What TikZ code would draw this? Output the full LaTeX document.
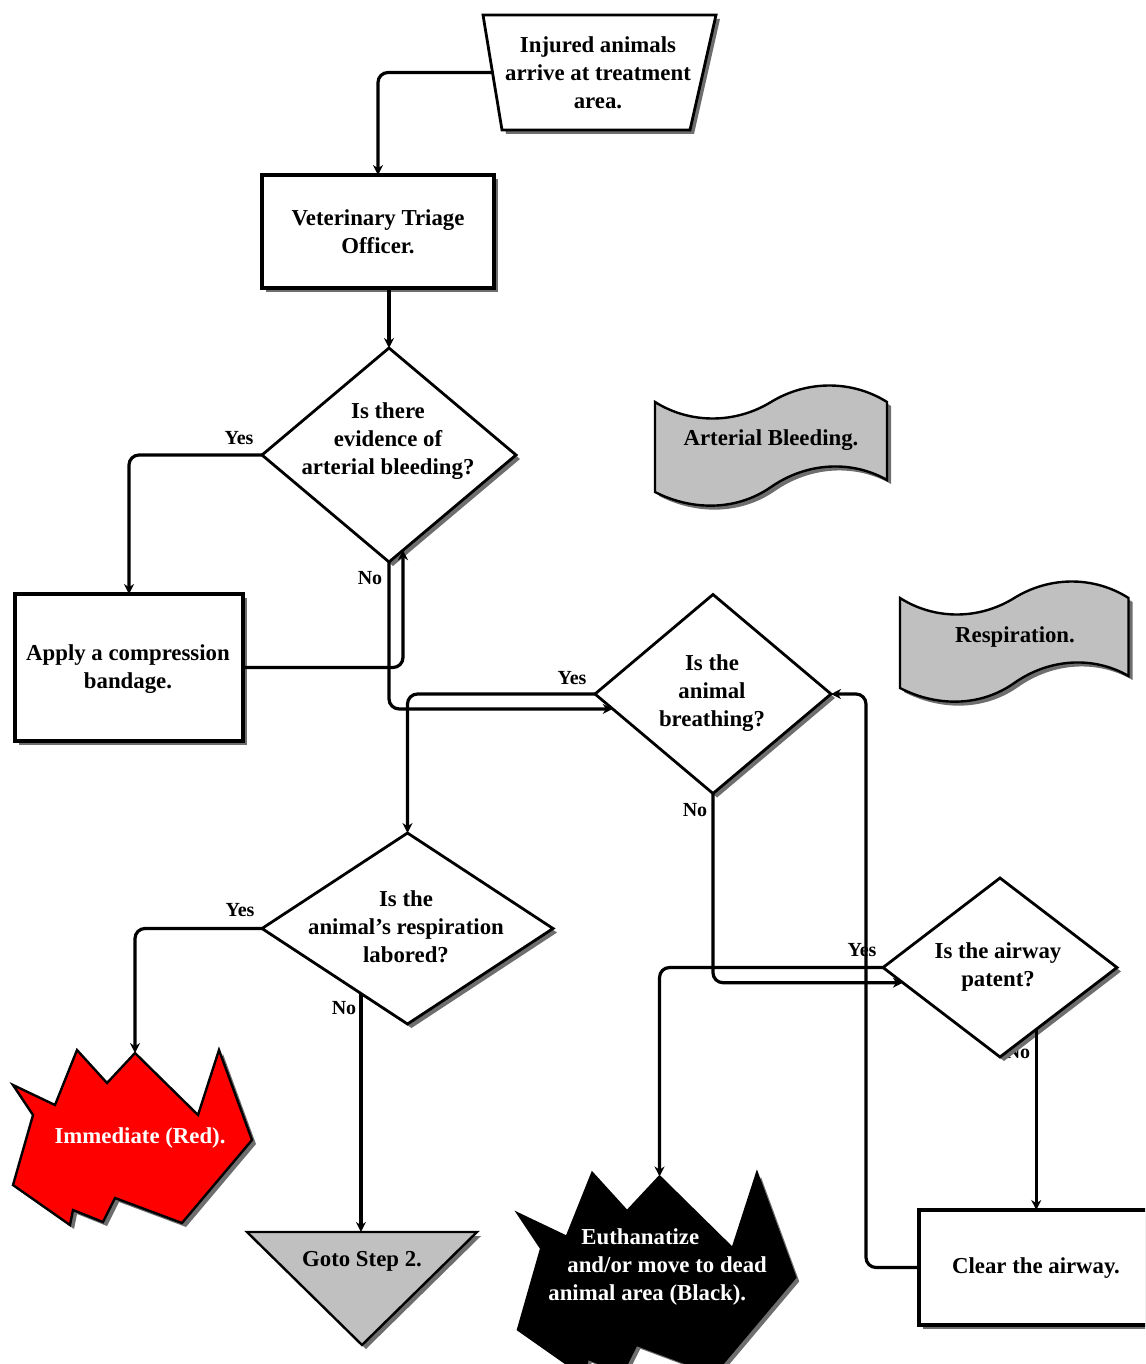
\documentclass[tikz,border=0pt]{standalone}
\usepackage{fontspec}
\setmainfont{Liberation Serif}
\usetikzlibrary{shapes.geometric,arrows.meta,calc}
\definecolor{shadc}{RGB}{110,110,110}
\definecolor{lgray}{RGB}{192,192,192}
\definecolor{fred}{RGB}{255,0,0}
\tikzset{
 shad/.style={preaction={fill=shadc, transform canvas={shift={(2pt,-2pt)}}}},
 boxs/.style={draw, rectangle, line width=1.6pt, fill=white, shad, inner sep=0pt, outer sep=0pt},
 dia/.style={draw, diamond, line width=1.4pt, fill=white, shad, inner sep=0pt, outer sep=0pt},
 txt/.style={font=\fontsize{11.4}{14}\selectfont\bfseries, align=center, inner sep=0pt},
 lbl/.style={font=\fontsize{10}{12}\selectfont\bfseries, inner sep=0pt},
 conn/.style={line width=1.6pt, rounded corners=5pt, -{Stealth[length=5pt,width=5pt]}},
}
\newcommand{\explopath}[2]{\path[#1] (122,3) coordinate (#2) -- (185,65) -- (206,0) -- (239,90) -- (169,173) -- (102,148) -- (90,172) -- (60,160) -- (57,175) -- (0,135) -- (20,65) -- (0,35) -- (42,55) -- (64,0) -- (94,33) -- cycle;}
\newcommand{\bannerpath}[1]{\path[#1] (0,0) .. controls (35,22) and (80,22) .. (116,0) .. controls (152,-22) and (197,-22) .. (232,0) -- (232,78) .. controls (197,58) and (152,60) .. (116,85) .. controls (80,110) and (35,108) .. (0,90) -- cycle;}
\begin{document}
\begin{tikzpicture}[x=0.5pt,y=-0.5pt]
\useasboundingbox (0,0) rectangle (1145,1364);
\clip (0,0) rectangle (1145,1364);

% label partly hidden by shadow
\node[lbl] (lno4) at (1018,1052) {No};

% trapezoid
\path[draw, line width=1.4pt, fill=white, shad] (483,15) -- (716,15) -- (690,130) -- (502,130) -- cycle;
\coordinate (tzl) at (492.5,72.5);
\node[txt] (tzt) at (598,73) {Injured animals\\arrive at treatment\\area.};

% boxes
\node[boxs, minimum width=116pt, minimum height=56.5pt] (vto) at (378,231.5) {};
\node[txt] (vtot) at (378,232) {Veterinary Triage\\Officer.};
\node[boxs, minimum width=114pt, minimum height=73.5pt] (apl) at (129,667.5) {};
\node[txt] (aplt) at (128,669) {Apply a compression\\bandage.};
\node[boxs, minimum width=117pt, minimum height=57.5pt] (clr) at (1036,1267.5) {};
\node[txt] (clrt) at (1036,1268) {Clear the airway.};

% diamonds
\node[dia, minimum width=127pt, minimum height=107pt] (d1) at (389,455) {};
\node[txt] (d1t) at (388,441) {Is there\\evidence of\\arterial bleeding?};
\node[dia, minimum width=118pt, minimum height=99.5pt] (d2) at (713,694) {};
\node[txt] (d2t) at (712,693) {Is the\\animal\\breathing?};
\node[dia, minimum width=145.5pt, minimum height=95.5pt] (d3) at (407.5,928.5) {};
\node[txt] (d3t) at (406,927) {Is the\\animal's respiration\\labored?};
\node[dia, minimum width=117pt, minimum height=89.5pt] (da) at (1000,967.5) {};
\node[txt] (dat) at (998,967) {Is the airway\\patent?};

% banners
\begin{scope}[shift={(655,402)}]
\bannerpath{draw, line width=1.2pt, fill=lgray, shad}
\end{scope}
\node[txt] (ab) at (771,440) {Arterial Bleeding.};
\begin{scope}[shift={(900,598)}, xscale=0.985]
\bannerpath{draw, line width=1.2pt, fill=lgray, shad}
\end{scope}
\node[txt] (rs) at (1015,637) {Respiration.};

% explosions
\begin{scope}[shift={(13,1050)}]
\explopath{draw, line width=1.2pt, fill=fred, shad}{redtop}
\end{scope}
\node[txt, text=white] (redt) at (140,1138) {Immediate (Red).};
\begin{scope}[shift={(518,1173)}, scale=1.16]
\explopath{draw, line width=1.2pt, fill=black, shad}{blktop}
\end{scope}
\node[txt, text=white, align=left, anchor=west] (blkt) at (548,1267) {\hspace*{16.5pt}Euthanatize\\\hspace*{9.5pt}and/or move to dead\\animal area (Black).};

% triangle
\path[draw, line width=1.2pt, fill=lgray, shad] (247,1232) -- (477,1232) -- (362,1345) -- cycle;
\coordinate (tritop) at (360,1232);
\node[txt] (trit) at (362,1261) {Goto Step 2.};

% connectors
\draw[conn] (tzl) -| (vto.north);
\draw[conn] (d1.north |- vto.south) -- (d1.north);
\draw[conn] (d1.west) -| (apl.north);
\coordinate (c4e) at ($(d1.south)!0.11!(d1.east)$);
\draw[conn] (apl.east) -| (c4e);
\coordinate (c5e) at ($(d2.west)!0.15!(d2.south)$);
\draw[conn] (d1.south) |- (c5e);
\draw[conn] (d2.west) -| (d3.north);
\draw[conn] (clr.west) -| ([xshift=17.5pt]d2.east) -- (d2.east);
\coordinate (c8e) at ($(da.west)!0.17!(da.south)$);
\draw[conn] (d2.south) |- (c8e);
\draw[conn] (da.west) -| (blktop);
\coordinate (c10s) at ($(da.south)!0.31!(da.east)$);
\draw[conn] (c10s) -- (c10s |- clr.north);
\draw[conn] (d3.west) -| (redtop);
\coordinate (c12s) at ($(d3.west)!0.68!(d3.south)$);
\draw[conn] (c12s) -- (c12s |- tritop);

% labels
\node[lbl] (ly1) at (239,438) {Yes};
\node[lbl] (ln1) at (370,578) {No};
\node[lbl] (ly2) at (572,678) {Yes};
\node[lbl] (ln2) at (695,810) {No};
\node[lbl] (ly4) at (862,950) {Yes};
\node[lbl] (ly3) at (240,910) {Yes};
\node[lbl] (ln3) at (344,1008) {No};
\end{tikzpicture}
\end{document}
